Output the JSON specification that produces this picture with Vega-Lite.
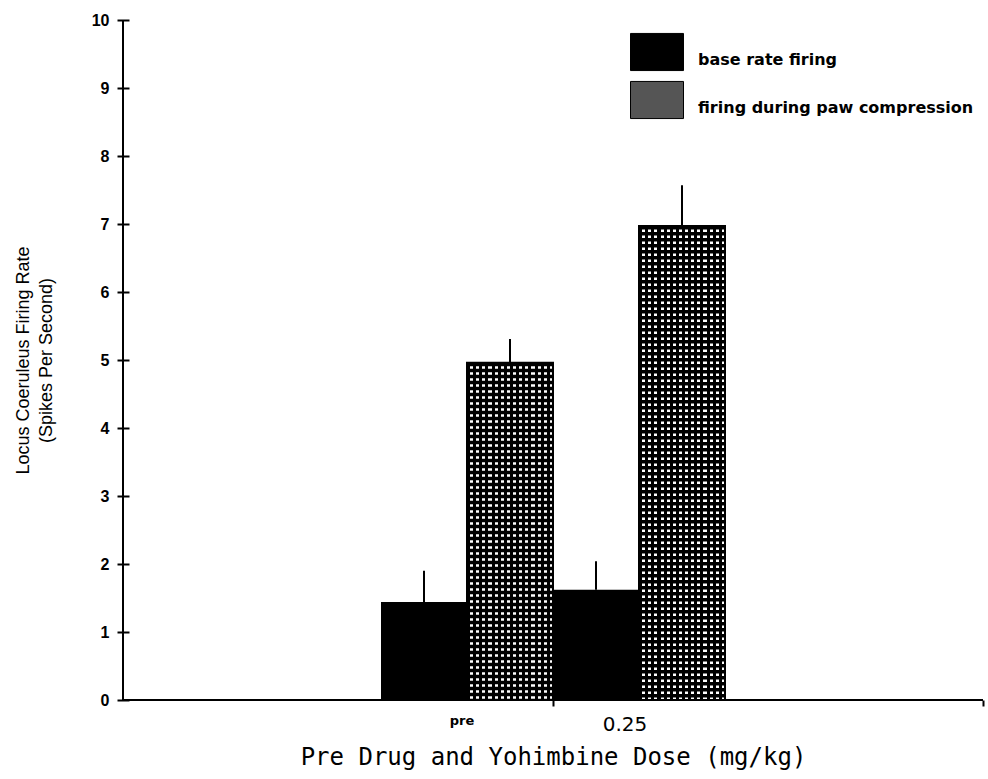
{
  "$schema": "https://vega.github.io/schema/vega-lite/v6.json",
  "width": 860,
  "height": 680,
  "autosize": "none",
  "padding": {"left": 123, "top": 20, "right": 5, "bottom": 79},
  "background": "white",
  "config": {
    "view": {"stroke": null},
    "axis": {"grid": false, "domainColor": "black", "tickColor": "black", "labelColor": "black", "titleColor": "black"}
  },
  "data": {
    "values": [
      {"dose": "pre", "series": "base rate firing", "rate": 1.44, "upper": 1.9},
      {"dose": "pre", "series": "firing during paw compression", "rate": 4.96, "upper": 5.31},
      {"dose": "0.25", "series": "base rate firing", "rate": 1.62, "upper": 2.04},
      {"dose": "0.25", "series": "firing during paw compression", "rate": 6.97, "upper": 7.57}
    ]
  },
  "layer": [
    {
      "layer": [
        {
          "mark": {"type": "bar", "strokeWidth": 0},
          "encoding": {
            "x": {
              "field": "dose",
              "type": "nominal",
              "sort": ["pre", "0.25"],
              "scale": {"range": [258, 602], "paddingInner": 0, "paddingOuter": 0},
              "axis": {
                "orient": "bottom",
                "ticks": false,
                "domain": false,
                "labelAngle": 0,
                "labelFont": "DejaVu Sans",
                "labelFontSize": {"condition": {"test": "datum.value === 'pre'", "value": 13}, "value": 20},
                "labelFontWeight": {"condition": {"test": "datum.value === 'pre'", "value": "bold"}, "value": "normal"},
                "labelOffset": {"condition": {"test": "datum.value === 'pre'", "value": -5}, "value": -14},
                "labelPadding": 14,
                "title": "Pre Drug and Yohimbine Dose (mg/kg)",
                "titleFont": "DejaVu Sans Mono",
                "titleFontSize": 24,
                "titleFontWeight": "normal",
                "titlePadding": 11
              }
            },
            "xOffset": {"field": "series", "type": "nominal", "scale": {"paddingInner": 0, "paddingOuter": 0}},
            "y": {
              "field": "rate",
              "type": "quantitative",
              "scale": {"domain": [0, 10], "nice": false},
              "axis": {
                "orient": "left",
                "offset": -6,
                "values": [0, 1, 2, 3, 4, 5, 6, 7, 8, 9, 10],
                "format": "d",
                "domain": false,
                "tickSize": 12,
                "tickWidth": 2,
                "labelFont": "Liberation Sans",
                "labelFontWeight": "bold",
                "labelFontSize": 16,
                "labelPadding": 8,
                "title": ["Locus Coeruleus Firing Rate", "(Spikes Per Second)"],
                "titleFont": "Liberation Sans",
                "titleFontSize": 18,
                "titleFontWeight": "normal",
                "titleLineHeight": 23,
                "titlePadding": 36
              }
            },
            "color": {
              "field": "series",
              "type": "nominal",
              "scale": {"domain": ["base rate firing", "firing during paw compression"], "range": ["#000000", "#555555"]},
              "legend": {
                "orient": "none",
                "legendX": 507,
                "legendY": 5,
                "title": null,
                "padding": 0,
                "symbolType": "M-1,-0.7H1V0.7H-1Z",
                "symbolSize": 2809,
                "symbolStrokeColor": "black",
                "symbolStrokeWidth": 1,
                "symbolOpacity": 1,
                "labelFont": "DejaVu Sans",
                "labelFontWeight": "bold",
                "labelFontSize": 16,
                "labelColor": "black",
                "labelLimit": 400,
                "labelOffset": 14,
                "labelBaseline": "top",
                "rowPadding": -6
              }
            }
          }
        },
        {
          "transform": [{"filter": "datum.series === 'firing during paw compression'"}],
          "mark": {
            "type": "bar",
            "strokeWidth": 0,
            "fill": {
              "gradient": "linear",
              "x1": 0, "y1": 0, "x2": 1, "y2": 0,
              "stops": [
                {"offset": 0, "color": "black"}, {"offset": 0.0357, "color": "black"},
                {"offset": 0.0357, "color": "white"}, {"offset": 0.0714, "color": "white"},
                {"offset": 0.0714, "color": "black"}, {"offset": 0.1071, "color": "black"},
                {"offset": 0.1071, "color": "white"}, {"offset": 0.1429, "color": "white"},
                {"offset": 0.1429, "color": "black"}, {"offset": 0.1786, "color": "black"},
                {"offset": 0.1786, "color": "white"}, {"offset": 0.2143, "color": "white"},
                {"offset": 0.2143, "color": "black"}, {"offset": 0.25, "color": "black"},
                {"offset": 0.25, "color": "white"}, {"offset": 0.2857, "color": "white"},
                {"offset": 0.2857, "color": "black"}, {"offset": 0.3214, "color": "black"},
                {"offset": 0.3214, "color": "white"}, {"offset": 0.3571, "color": "white"},
                {"offset": 0.3571, "color": "black"}, {"offset": 0.3929, "color": "black"},
                {"offset": 0.3929, "color": "white"}, {"offset": 0.4286, "color": "white"},
                {"offset": 0.4286, "color": "black"}, {"offset": 0.4643, "color": "black"},
                {"offset": 0.4643, "color": "white"}, {"offset": 0.5, "color": "white"},
                {"offset": 0.5, "color": "black"}, {"offset": 0.5357, "color": "black"},
                {"offset": 0.5357, "color": "white"}, {"offset": 0.5714, "color": "white"},
                {"offset": 0.5714, "color": "black"}, {"offset": 0.6071, "color": "black"},
                {"offset": 0.6071, "color": "white"}, {"offset": 0.6429, "color": "white"},
                {"offset": 0.6429, "color": "black"}, {"offset": 0.6786, "color": "black"},
                {"offset": 0.6786, "color": "white"}, {"offset": 0.7143, "color": "white"},
                {"offset": 0.7143, "color": "black"}, {"offset": 0.75, "color": "black"},
                {"offset": 0.75, "color": "white"}, {"offset": 0.7857, "color": "white"},
                {"offset": 0.7857, "color": "black"}, {"offset": 0.8214, "color": "black"},
                {"offset": 0.8214, "color": "white"}, {"offset": 0.8571, "color": "white"},
                {"offset": 0.8571, "color": "black"}, {"offset": 0.8929, "color": "black"},
                {"offset": 0.8929, "color": "white"}, {"offset": 0.9286, "color": "white"},
                {"offset": 0.9286, "color": "black"}, {"offset": 0.9643, "color": "black"},
                {"offset": 0.9643, "color": "white"}, {"offset": 1, "color": "white"}
              ]
            }
          },
          "encoding": {
            "x": {"field": "dose", "type": "nominal", "sort": ["pre", "0.25"]},
            "xOffset": {"field": "series", "type": "nominal"},
            "y": {"field": "rate", "type": "quantitative"}
          }
        },
        {
          "transform": [{"filter": "datum.series === 'firing during paw compression'"}],
          "mark": {"type": "rule", "color": "black", "strokeWidth": 84, "strokeDash": [3.5, 2.5], "strokeCap": "butt"},
          "encoding": {
            "x": {"field": "dose", "type": "nominal", "sort": ["pre", "0.25"]},
            "xOffset": {"field": "series", "type": "nominal"},
            "y": {"field": "rate", "type": "quantitative"},
            "y2": {"datum": 0}
          }
        },
        {
          "transform": [{"filter": "datum.series === 'firing during paw compression'"}],
          "mark": {"type": "bar", "fillOpacity": 0, "stroke": "black", "strokeWidth": 2},
          "encoding": {
            "x": {"field": "dose", "type": "nominal", "sort": ["pre", "0.25"]},
            "xOffset": {"field": "series", "type": "nominal"},
            "y": {"field": "rate", "type": "quantitative"}
          }
        },
        {
          "mark": {"type": "rule", "color": "black", "strokeWidth": 2},
          "encoding": {
            "x": {"field": "dose", "type": "nominal", "sort": ["pre", "0.25"]},
            "xOffset": {"field": "series", "type": "nominal"},
            "y": {"field": "rate", "type": "quantitative"},
            "y2": {"field": "upper"}
          }
        }
      ]
    },
    {
      "layer": [
        {
          "mark": {"type": "rule", "color": "black", "strokeWidth": 2},
          "encoding": {
            "x": {
              "datum": 0,
              "type": "quantitative",
              "scale": {"domain": [0, 2], "nice": false},
              "axis": {"orient": "bottom", "values": [1, 2], "labels": false, "title": null, "tickSize": 6, "tickWidth": 2, "domain": false}
            },
            "x2": {"datum": 2},
            "y": {"datum": 0, "type": "quantitative", "axis": null}
          }
        },
        {
          "mark": {"type": "rule", "color": "black", "strokeWidth": 2},
          "encoding": {
            "x": {"datum": 0, "type": "quantitative"},
            "y": {"datum": 0, "type": "quantitative", "axis": null},
            "y2": {"datum": 10}
          }
        }
      ]
    }
  ],
  "resolve": {"scale": {"x": "independent"}, "axis": {"x": "independent", "y": "independent"}}
}
